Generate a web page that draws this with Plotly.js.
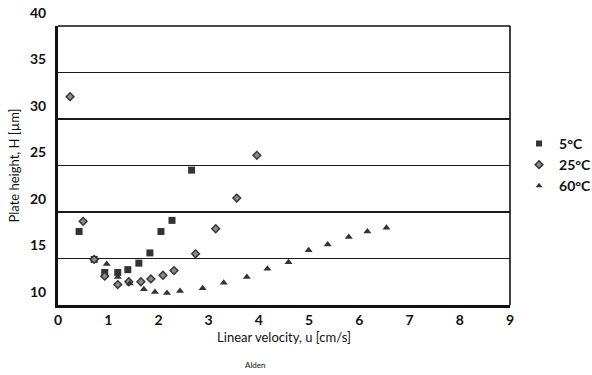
<!DOCTYPE html>
<html>
<head>
<meta charset="utf-8">
<script src="https://cdn.plot.ly/plotly-3.0.1.min.js"></script>
<style>
  html, body { margin: 0; padding: 0; background: #fff; }
  #chart { width: 592px; height: 375px; }
</style>
</head>
<body>
<div id="chart"></div>
<script>
// Plate height H (µm) against linear velocity u (cm/s) at three column temperatures
var seriesNames = ['5°C', '25°C', '60°C'];

var u5  = [0.42, 0.72, 0.93, 1.19, 1.39, 1.61, 1.83, 2.05, 2.27, 2.66];
var h5  = [17.9, 14.9, 13.5, 13.5, 13.8, 14.5, 15.6, 17.9, 19.1, 24.5];

var u25 = [0.24, 0.50, 0.72, 0.93, 1.19, 1.41, 1.65, 1.85, 2.09, 2.31, 2.74, 3.14, 3.56, 3.96];
var h25 = [32.4, 19.0, 14.9, 13.1, 12.2, 12.5, 12.5, 12.8, 13.2, 13.7, 15.5, 18.2, 21.5, 26.1];

var u60 = [0.97, 1.19, 1.43, 1.71, 1.93, 2.17, 2.43, 2.88, 3.30, 3.76, 4.17, 4.59, 4.99, 5.37, 5.79, 6.16, 6.54];
var h60 = [14.4, 13.0, 12.3, 11.7, 11.4, 11.3, 11.5, 11.8, 12.4, 13.0, 13.9, 14.6, 15.9, 16.5, 17.3, 17.9, 18.3];

var xTicks = [0, 1, 2, 3, 4, 5, 6, 7, 8, 9];
var yTicks = [10, 15, 20, 25, 30, 35, 40];

var tickFont = { family: 'Lato, "DejaVu Sans", sans-serif', size: 14, color: '#111', weight: 'bold' };
var labelFont = { family: 'Lato, "DejaVu Sans", sans-serif', size: 13, color: '#111' };

var styles = [
  { symbol: 'square', size: 7, color: '#333333', line: { width: 0 } },
  { symbol: 'diamond', size: 6, color: '#8a8a8a', line: { width: 1.4, color: '#333333' } },
  { symbol: 'triangle-up', size: 7, color: '#333333', line: { width: 0 } }
];
var xs = [u5, u25, u60];
var ys = [h5, h25, h60];

var traces = [];
// measured points
for (var i = 0; i < 3; i++) {
  traces.push({
    type: 'scatter', mode: 'markers', x: xs[i], y: ys[i],
    name: seriesNames[i], showlegend: false, cliponaxis: false,
    marker: { symbol: styles[i].symbol, size: styles[i].size, color: styles[i].color, line: styles[i].line }
  });
}
// smaller symbols for the legend entries
for (var j = 0; j < 3; j++) {
  traces.push({
    type: 'scatter', mode: 'markers', x: [null], y: [null],
    name: seriesNames[j], showlegend: true,
    marker: { symbol: styles[j].symbol, size: 6, color: styles[j].color, line: styles[j].line }
  });
}

var layout = {
  width: 592, height: 375,
  margin: { l: 58, r: 82, t: 26, b: 70, autoexpand: false },
  paper_bgcolor: '#fff', plot_bgcolor: '#fff',
  showlegend: true,
  legend: {
    x: 1.02, xanchor: 'left', y: 0.635, yanchor: 'top',
    font: { family: 'Lato, "DejaVu Sans", sans-serif', size: 14, color: '#111', weight: 'bold' },
    bgcolor: 'rgba(0,0,0,0)', tracegroupgap: 0, itemwidth: 30
  },
  xaxis: {
    range: [0, 9], tickvals: xTicks, ticktext: xTicks.map(String),
    showgrid: false, zeroline: false, ticks: '',
    showline: true, linewidth: 3, linecolor: '#111',
    tickfont: tickFont, automargin: false,
    title: { text: 'Linear velocity, u [cm/s]', font: labelFont, standoff: 7 }
  },
  yaxis: {
    range: [10, 40], tickvals: yTicks, ticktext: yTicks.map(String),
    showgrid: true, gridcolor: '#1a1a1a', gridwidth: 1.5,
    zeroline: false, ticks: '',
    showline: true, linewidth: 3, linecolor: '#111',
    tickfont: tickFont, ticklabelshift: -13, ticklabelstandoff: 6, automargin: false,
    title: { text: 'Plate height, H [µm]', font: labelFont, standoff: 8 }
  },
  shapes: [
    { type: 'line', xref: 'paper', yref: 'paper', x0: 0, x1: 1, y0: 1, y1: 1, line: { color: '#111', width: 1.6 } },
    { type: 'line', xref: 'paper', yref: 'paper', x0: 1, x1: 1, y0: 0, y1: 1, line: { color: '#111', width: 1.6 } }
  ],
  annotations: [
    { text: 'Temperature and Efficiency', xref: 'paper', yref: 'paper',
      x: (412 - 58) / 452, xanchor: 'right', y: (305 + 1) / 279, yanchor: 'bottom',
      showarrow: false, font: { family: 'Lato, "DejaVu Sans", sans-serif', size: 22, color: '#111', weight: 'bold' } },
    { text: 'Alden', xref: 'paper', yref: 'paper',
      x: (255 - 58) / 452, xanchor: 'center', y: (305 - 365) / 279, yanchor: 'middle',
      showarrow: false, font: { family: 'Lato, "DejaVu Sans", sans-serif', size: 8, color: '#111' } }
  ]
};

Plotly.newPlot('chart', traces, layout, { staticPlot: true, displayModeBar: false });
</script>
</body>
</html>
